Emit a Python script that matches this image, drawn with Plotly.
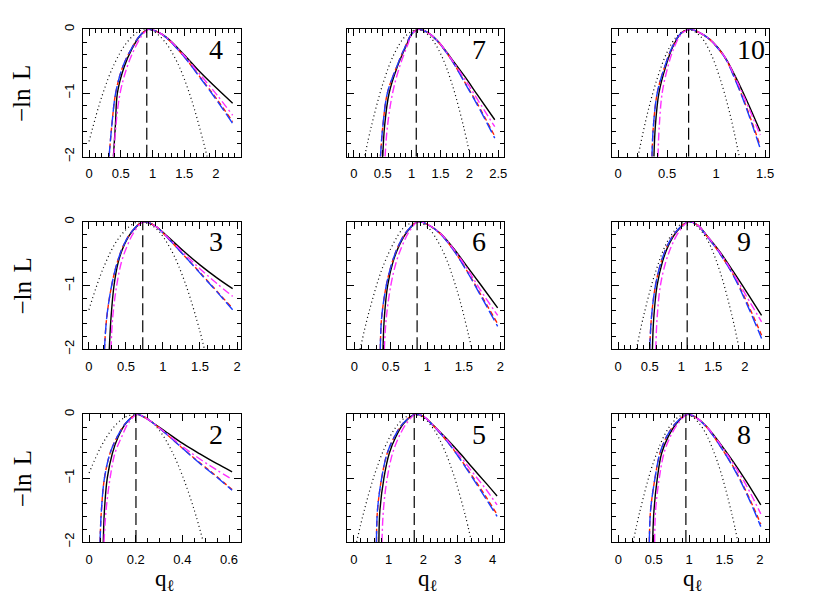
import plotly.graph_objects as go

# ---------------- data ----------------
# panel 4
P4_BLACK_X = [0.384, 0.416, 0.447, 0.553, 0.674, 0.805, 0.93, 1.08, 1.226, 1.49, 1.75, 2.016, 2.263]
P4_BLACK_Y = [-2.0, -1.5, -1.0, -0.59, -0.31, -0.10, 0.0, -0.04, -0.13, -0.39, -0.67, -0.93, -1.16]
P4_BLUE_X = [0.316, 0.36, 0.42, 0.53, 0.665, 0.80, 0.93, 1.08, 1.226, 1.49, 1.75, 2.016, 2.263]
P4_BLUE_Y = [-2.0, -1.5, -1.0, -0.59, -0.31, -0.10, 0.0, -0.04, -0.14, -0.42, -0.76, -1.12, -1.48]
P4_RED_Y = [-2.0, -1.5, -1.0, -0.59, -0.31, -0.10, 0.0, -0.04, -0.14, -0.42, -0.75, -1.10, -1.45]
P4_MAG_X = [0.39, 0.425, 0.49, 0.60, 0.72, 0.84, 0.94, 1.08, 1.226, 1.49, 1.75, 2.016, 2.263]
P4_MAG_Y = [-2.0, -1.5, -1.0, -0.59, -0.30, -0.09, 0.0, -0.04, -0.13, -0.40, -0.71, -1.03, -1.35]
P4_GAUSS_X = [0.0, 0.2, 0.4, 0.6, 0.8, 0.9, 1.0, 1.2, 1.4, 1.6, 1.8, 1.86]
P4_GAUSS_Y = [-1.76, -1.06, -0.54, -0.20, -0.02, 0.0, -0.02, -0.20, -0.54, -1.06, -1.76, -2.0]
P4_MLE = 0.91

# panel 7
P7_BLACK_X = [0.50, 0.53, 0.61, 0.75, 0.90, 1.01, 1.12, 1.28, 1.46, 1.69, 1.92, 2.14, 2.44]
P7_BLACK_Y = [-2.0, -1.53, -1.0, -0.59, -0.27, -0.06, 0.0, -0.05, -0.19, -0.46, -0.74, -1.03, -1.42]
P7_BLUE_X = [0.46, 0.50, 0.58, 0.74, 0.89, 1.01, 1.12, 1.28, 1.46, 1.69, 1.92, 2.14, 2.44]
P7_BLUE_Y = [-2.0, -1.53, -1.0, -0.59, -0.27, -0.06, 0.0, -0.05, -0.20, -0.48, -0.84, -1.19, -1.71]
P7_RED_Y = [-2.0, -1.53, -1.0, -0.59, -0.27, -0.06, 0.0, -0.05, -0.20, -0.48, -0.83, -1.17, -1.68]
P7_MAG_X = [0.54, 0.58, 0.67, 0.79, 0.92, 1.02, 1.12, 1.28, 1.46, 1.69, 1.92, 2.14, 2.44]
P7_MAG_Y = [-2.0, -1.53, -1.0, -0.59, -0.27, -0.06, 0.0, -0.05, -0.19, -0.47, -0.78, -1.10, -1.53]
P7_GAUSS_X = [0.19, 0.3, 0.5, 0.7, 0.9, 1.1, 1.3, 1.5, 1.7, 1.9, 2.01]
P7_GAUSS_Y = [-1.98, -1.53, -0.86, -0.38, -0.10, 0.0, -0.10, -0.38, -0.86, -1.53, -1.98]
P7_MLE = 1.08

# panel 10
P10_BLACK_X = [0.366, 0.38, 0.417, 0.485, 0.56, 0.644, 0.735, 0.83, 0.93, 1.02, 1.10, 1.20, 1.305, 1.45]
P10_BLACK_Y = [-2.0, -1.53, -1.0, -0.59, -0.27, -0.06, 0.0, -0.05, -0.15, -0.29, -0.46, -0.75, -1.09, -1.60]
P10_BLUE_X = [0.346, 0.36, 0.40, 0.475, 0.555, 0.642, 0.735, 0.83, 0.93, 1.02, 1.10, 1.20, 1.305, 1.45]
P10_BLUE_Y = [-2.0, -1.53, -1.0, -0.59, -0.27, -0.06, 0.0, -0.05, -0.15, -0.30, -0.47, -0.81, -1.22, -1.87]
P10_RED_Y = [-2.0, -1.53, -1.0, -0.59, -0.27, -0.06, 0.0, -0.05, -0.15, -0.30, -0.47, -0.80, -1.20, -1.83]
P10_MAG_X = [0.407, 0.42, 0.45, 0.508, 0.576, 0.654, 0.74, 0.83, 0.93, 1.02, 1.10, 1.20, 1.305, 1.45]
P10_MAG_Y = [-2.0, -1.53, -1.0, -0.59, -0.27, -0.06, 0.0, -0.05, -0.15, -0.29, -0.46, -0.77, -1.13, -1.66]
P10_GAUSS_X = [0.203, 0.3, 0.4, 0.5, 0.6, 0.72, 0.84, 0.94, 1.04, 1.14, 1.237]
P10_GAUSS_Y = [-2.0, -1.32, -0.77, -0.36, -0.11, 0.0, -0.11, -0.36, -0.77, -1.32, -2.0]
P10_MLE = 0.72

# panel 3
P3_BLACK_X = [0.275, 0.298, 0.339, 0.397, 0.474, 0.578, 0.736, 0.90, 1.052, 1.278, 1.503, 1.729, 1.941]
P3_BLACK_Y = [-2.0, -1.51, -1.0, -0.63, -0.37, -0.16, 0.0, -0.07, -0.22, -0.46, -0.68, -0.88, -1.05]
P3_BLUE_X = [0.21, 0.24, 0.307, 0.385, 0.468, 0.575, 0.736, 0.90, 1.052, 1.278, 1.503, 1.729, 1.941]
P3_BLUE_Y = [-2.0, -1.51, -1.0, -0.63, -0.37, -0.16, 0.0, -0.07, -0.24, -0.52, -0.81, -1.10, -1.38]
P3_RED_Y = [-2.0, -1.51, -1.0, -0.63, -0.37, -0.16, 0.0, -0.07, -0.24, -0.52, -0.80, -1.09, -1.36]
P3_MAG_X = [0.298, 0.32, 0.375, 0.44, 0.52, 0.61, 0.74, 0.90, 1.052, 1.278, 1.503, 1.729, 1.941]
P3_MAG_Y = [-2.0, -1.51, -1.0, -0.63, -0.37, -0.16, 0.0, -0.07, -0.23, -0.49, -0.74, -0.97, -1.17]
P3_GAUSS_X = [0.0, 0.2, 0.4, 0.6, 0.708, 0.9, 1.1, 1.3, 1.5, 1.56]
P3_GAUSS_Y = [-1.38, -0.71, -0.26, -0.03, 0.0, -0.10, -0.42, -0.96, -1.72, -2.0]
P3_MLE = 0.727

# panel 6
P6_BLACK_X = [0.393, 0.411, 0.457, 0.53, 0.616, 0.721, 0.868, 1.0, 1.178, 1.361, 1.543, 1.726, 1.963]
P6_BLACK_Y = [-2.0, -1.51, -1.0, -0.63, -0.37, -0.16, 0.0, -0.04, -0.18, -0.42, -0.70, -0.98, -1.35]
P6_BLUE_X = [0.356, 0.374, 0.438, 0.52, 0.607, 0.712, 0.868, 1.0, 1.178, 1.361, 1.543, 1.726, 1.963]
P6_BLUE_Y = [-2.0, -1.51, -1.0, -0.63, -0.37, -0.16, 0.0, -0.04, -0.19, -0.45, -0.78, -1.15, -1.64]
P6_RED_Y = [-2.0, -1.51, -1.0, -0.63, -0.37, -0.16, 0.0, -0.04, -0.19, -0.45, -0.77, -1.13, -1.60]
P6_MAG_X = [0.411, 0.438, 0.50, 0.575, 0.658, 0.749, 0.87, 1.0, 1.178, 1.361, 1.543, 1.726, 1.963]
P6_MAG_Y = [-2.0, -1.51, -1.0, -0.63, -0.37, -0.16, 0.0, -0.04, -0.18, -0.43, -0.73, -1.07, -1.47]
P6_GAUSS_X = [0.08, 0.2, 0.4, 0.6, 0.7, 0.845, 1.0, 1.2, 1.4, 1.61]
P6_GAUSS_Y = [-2.0, -1.42, -0.68, -0.21, -0.07, 0.0, -0.08, -0.43, -1.05, -2.0]
P6_MLE = 0.86

# panel 9
P9_BLACK_X = [0.542, 0.563, 0.616, 0.70, 0.795, 0.921, 1.105, 1.25, 1.395, 1.605, 1.816, 2.026, 2.263]
P9_BLACK_Y = [-2.0, -1.51, -1.0, -0.63, -0.37, -0.16, 0.0, -0.05, -0.21, -0.47, -0.78, -1.10, -1.47]
P9_BLUE_X = [0.50, 0.526, 0.59, 0.68, 0.78, 0.91, 1.105, 1.25, 1.395, 1.605, 1.816, 2.026, 2.263]
P9_BLUE_Y = [-2.0, -1.51, -1.0, -0.63, -0.37, -0.16, 0.0, -0.05, -0.22, -0.50, -0.84, -1.28, -1.83]
P9_RED_Y = [-2.0, -1.51, -1.0, -0.63, -0.37, -0.16, 0.0, -0.05, -0.22, -0.50, -0.83, -1.25, -1.78]
P9_MAG_X = [0.595, 0.616, 0.668, 0.753, 0.847, 0.958, 1.11, 1.25, 1.395, 1.605, 1.816, 2.026, 2.263]
P9_MAG_Y = [-2.0, -1.51, -1.0, -0.63, -0.37, -0.16, 0.0, -0.05, -0.21, -0.48, -0.81, -1.17, -1.57]
P9_GAUSS_X = [0.29, 0.4, 0.6, 0.8, 1.0, 1.1, 1.2, 1.4, 1.6, 1.8, 1.91]
P9_GAUSS_Y = [-2.0, -1.49, -0.76, -0.27, -0.03, 0.0, -0.03, -0.27, -0.76, -1.49, -2.0]
P9_MLE = 1.09

# panel 2
P2_BLACK_X = [0.061, 0.066, 0.078, 0.10, 0.125, 0.158, 0.204, 0.23, 0.261, 0.332, 0.403, 0.475, 0.546, 0.613]
P2_BLACK_Y = [-2.0, -1.5, -1.0, -0.61, -0.35, -0.14, 0.0, -0.03, -0.10, -0.28, -0.46, -0.62, -0.77, -0.90]
P2_BLUE_X = [0.047, 0.053, 0.066, 0.09, 0.121, 0.157, 0.204, 0.23, 0.261, 0.332, 0.403, 0.475, 0.546, 0.613]
P2_BLUE_Y = [-2.0, -1.5, -1.0, -0.61, -0.35, -0.14, 0.0, -0.03, -0.10, -0.31, -0.54, -0.77, -0.98, -1.19]
P2_RED_Y = [-2.0, -1.5, -1.0, -0.61, -0.35, -0.14, 0.0, -0.03, -0.10, -0.31, -0.54, -0.76, -0.97, -1.18]
P2_MAG_X = [0.064, 0.073, 0.09, 0.111, 0.14, 0.168, 0.206, 0.23, 0.261, 0.332, 0.403, 0.475, 0.546, 0.613]
P2_MAG_Y = [-2.0, -1.5, -1.0, -0.61, -0.35, -0.14, 0.0, -0.03, -0.10, -0.30, -0.51, -0.70, -0.87, -1.02]
P2_GAUSS_X = [0.0, 0.05, 0.1, 0.15, 0.198, 0.25, 0.3, 0.35, 0.4, 0.45, 0.489]
P2_GAUSS_Y = [-0.92, -0.515, -0.226, -0.054, 0.0, -0.064, -0.245, -0.543, -0.959, -1.49, -1.99]
P2_MLE = 0.201

# panel 5
P5_BLACK_X = [0.72, 0.75, 0.865, 1.02, 1.21, 1.44, 1.76, 2.0, 2.29, 2.67, 3.06, 3.44, 3.83, 4.13]
P5_BLACK_Y = [-2.0, -1.5, -1.0, -0.61, -0.35, -0.14, 0.0, -0.03, -0.17, -0.38, -0.61, -0.85, -1.09, -1.28]
P5_BLUE_X = [0.65, 0.68, 0.80, 0.96, 1.17, 1.42, 1.76, 2.0, 2.29, 2.67, 3.06, 3.44, 3.83, 4.13]
P5_BLUE_Y = [-2.0, -1.5, -1.0, -0.61, -0.35, -0.14, 0.0, -0.03, -0.18, -0.41, -0.70, -1.01, -1.34, -1.60]
P5_RED_Y = [-2.0, -1.5, -1.0, -0.61, -0.35, -0.14, 0.0, -0.03, -0.18, -0.41, -0.69, -0.99, -1.31, -1.57]
P5_MAG_X = [0.81, 0.85, 0.96, 1.115, 1.30, 1.52, 1.78, 2.0, 2.29, 2.67, 3.06, 3.44, 3.83, 4.13]
P5_MAG_Y = [-2.0, -1.5, -1.0, -0.61, -0.35, -0.14, 0.0, -0.03, -0.17, -0.39, -0.65, -0.92, -1.19, -1.42]
P5_GAUSS_X = [0.077, 0.3, 0.6, 0.9, 1.2, 1.5, 1.735, 2.0, 2.3, 2.6, 2.9, 3.2, 3.39]
P5_GAUSS_Y = [-2.0, -1.50, -0.935, -0.506, -0.208, -0.04, 0.0, -0.051, -0.232, -0.543, -0.985, -1.558, -1.99]
P5_MLE = 1.74

# panel 8
P8_BLACK_X = [0.485, 0.504, 0.551, 0.612, 0.706, 0.824, 0.974, 1.1, 1.247, 1.435, 1.624, 1.812, 2.014]
P8_BLACK_Y = [-2.0, -1.5, -1.0, -0.61, -0.35, -0.14, 0.0, -0.05, -0.19, -0.45, -0.74, -1.055, -1.42]
P8_BLUE_X = [0.438, 0.456, 0.518, 0.588, 0.682, 0.81, 0.974, 1.1, 1.247, 1.435, 1.624, 1.812, 2.014]
P8_BLUE_Y = [-2.0, -1.5, -1.0, -0.61, -0.35, -0.14, 0.0, -0.05, -0.20, -0.49, -0.83, -1.24, -1.76]
P8_RED_Y = [-2.0, -1.5, -1.0, -0.61, -0.35, -0.14, 0.0, -0.05, -0.20, -0.49, -0.82, -1.22, -1.72]
P8_MAG_X = [0.513, 0.527, 0.579, 0.645, 0.734, 0.847, 0.98, 1.1, 1.247, 1.435, 1.624, 1.812, 2.014]
P8_MAG_Y = [-2.0, -1.5, -1.0, -0.61, -0.35, -0.14, 0.0, -0.05, -0.19, -0.46, -0.77, -1.12, -1.56]
P8_GAUSS_X = [0.21, 0.3, 0.5, 0.7, 0.85, 0.95, 1.05, 1.2, 1.4, 1.6, 1.69]
P8_GAUSS_Y = [-2.0, -1.54, -0.74, -0.23, -0.04, 0.0, -0.04, -0.23, -0.74, -1.54, -2.0]
P8_MLE = 0.955

PANEL_LABELS = ["4", "7", "10", "3", "6", "9", "2", "5", "8"]
Y_TICK_VALUES = [-2, -1, 0]

# table of panels built from the lists above (grid order: rows top->bottom, cols left->right)
PANELS = [
    (P4_BLACK_X, P4_BLACK_Y, P4_BLUE_X, P4_BLUE_Y, P4_RED_Y, P4_MAG_X, P4_MAG_Y, P4_GAUSS_X, P4_GAUSS_Y, P4_MLE),
    (P7_BLACK_X, P7_BLACK_Y, P7_BLUE_X, P7_BLUE_Y, P7_RED_Y, P7_MAG_X, P7_MAG_Y, P7_GAUSS_X, P7_GAUSS_Y, P7_MLE),
    (P10_BLACK_X, P10_BLACK_Y, P10_BLUE_X, P10_BLUE_Y, P10_RED_Y, P10_MAG_X, P10_MAG_Y, P10_GAUSS_X, P10_GAUSS_Y, P10_MLE),
    (P3_BLACK_X, P3_BLACK_Y, P3_BLUE_X, P3_BLUE_Y, P3_RED_Y, P3_MAG_X, P3_MAG_Y, P3_GAUSS_X, P3_GAUSS_Y, P3_MLE),
    (P6_BLACK_X, P6_BLACK_Y, P6_BLUE_X, P6_BLUE_Y, P6_RED_Y, P6_MAG_X, P6_MAG_Y, P6_GAUSS_X, P6_GAUSS_Y, P6_MLE),
    (P9_BLACK_X, P9_BLACK_Y, P9_BLUE_X, P9_BLUE_Y, P9_RED_Y, P9_MAG_X, P9_MAG_Y, P9_GAUSS_X, P9_GAUSS_Y, P9_MLE),
    (P2_BLACK_X, P2_BLACK_Y, P2_BLUE_X, P2_BLUE_Y, P2_RED_Y, P2_MAG_X, P2_MAG_Y, P2_GAUSS_X, P2_GAUSS_Y, P2_MLE),
    (P5_BLACK_X, P5_BLACK_Y, P5_BLUE_X, P5_BLUE_Y, P5_RED_Y, P5_MAG_X, P5_MAG_Y, P5_GAUSS_X, P5_GAUSS_Y, P5_MLE),
    (P8_BLACK_X, P8_BLACK_Y, P8_BLUE_X, P8_BLUE_Y, P8_RED_Y, P8_MAG_X, P8_MAG_Y, P8_GAUSS_X, P8_GAUSS_Y, P8_MLE),
]

# ---------------- layout / styling ----------------
W, H = 817, 611
OFF = 8.0  # page body margin offset in the browser
COL_PX = [(83.0, 240.7), (347.0, 504.0), (611.7, 769.0)]
ROW_PX = [(29.3, 156.7), (221.7, 349.3), (414.3, 542.0)]
# x-axis range and tick spacing per panel (style)
X_AXES = [
    ([-0.095, 2.39], 0.5, 0.1), ([-0.12, 2.6], 0.5, 0.1), ([-0.065, 1.54], 0.5, 0.1),
    ([-0.08, 2.05], 0.5, 0.1), ([-0.1, 2.05], 0.5, 0.1), ([-0.1, 2.38], 0.5, 0.1),
    ([-0.026, 0.65], 0.2, 0.05), ([-0.2, 4.33], 1.0, 0.2), ([-0.094, 2.13], 0.5, 0.1),
]

SERIF = "Liberation Serif, DejaVu Serif, serif"
SANS = "Liberation Sans, Arial, sans-serif"


def px_x(v):
    return (v - OFF) / W


def px_y(v):
    return 1 - (v - OFF) / H


fig = go.Figure()

for i, (bx, by, ux, uy, ry, mx, my, gx, gy, mle) in enumerate(PANELS):
    idx = i + 1
    r, c = divmod(i, 3)
    xa = "x" if idx == 1 else f"x{idx}"
    ya = "y" if idx == 1 else f"y{idx}"
    common = dict(xaxis=xa, yaxis=ya, mode="lines", showlegend=False, hoverinfo="skip")
    fig.add_trace(go.Scatter(x=gx, y=gy, line=dict(color="black", width=1.2, dash="1px,3px", shape="spline"), **common))
    fig.add_trace(go.Scatter(x=bx, y=by, line=dict(color="black", width=1.4, shape="spline"), **common))
    fig.add_trace(go.Scatter(x=ux, y=ry, line=dict(color="#ff2000", width=1.4, dash="5px,3px", shape="spline"), **common))
    fig.add_trace(go.Scatter(x=ux, y=uy, line=dict(color="#1a3cff", width=1.4, dash="11px,4px", shape="spline"), **common))
    fig.add_trace(go.Scatter(x=mx, y=my, line=dict(color="#ff30ff", width=1.4, dash="8px,3px,2px,3px", shape="spline"), **common))
    fig.add_trace(go.Scatter(x=[mle, mle], y=[Y_TICK_VALUES[0], Y_TICK_VALUES[-1]],
                             line=dict(color="black", width=1.2, dash="12px,5px"), **common))

    x0, x1 = COL_PX[c]
    y0, y1 = ROW_PX[r]
    xr, dt, mdt = X_AXES[i]
    axis_common = dict(showline=True, linecolor="black", linewidth=1.3, mirror="ticks",
                       ticks="inside", ticklen=7, tickwidth=1, tickcolor="black",
                       showgrid=False, zeroline=False, automargin=False,
                       tickfont=dict(family=SANS, size=13, color="black"))
    fig.update_layout(**{
        f"xaxis{idx}": dict(domain=[px_x(x0), px_x(x1)], anchor=ya, range=xr, tick0=0, dtick=dt,
                            ticklabelstandoff=5,
                            minor=dict(dtick=mdt, tick0=0, ticklen=4, ticks="inside", tickcolor="black", tickwidth=1),
                            **axis_common),
        f"yaxis{idx}": dict(domain=[px_y(y1), px_y(y0)], anchor=xa, range=[-2.001, 0.001],
                            tickvals=Y_TICK_VALUES, tickangle=-90, showticklabels=(c == 0),
                            ticklabelstandoff=3,
                            minor=dict(dtick=0.2, tick0=0, ticklen=4, ticks="inside", tickcolor="black", tickwidth=1),
                            **axis_common),
    })
    # panel number
    fig.add_annotation(xref="paper", yref="paper", x=px_x(x1 - 34), y=px_y(y0 + 20),
                       text=PANEL_LABELS[i], showarrow=False, xanchor="left", yanchor="middle",
                       font=dict(family=SERIF, size=28, color="black"))
    if c == 0:
        fig.add_annotation(xref="paper", yref="paper", x=px_x(22.0), y=px_y((y0 + y1) / 2),
                           text="\u2212ln\u2004L", textangle=-90, showarrow=False,
                           xanchor="center", yanchor="middle", borderpad=0,
                           font=dict(family=SERIF, size=25, color="black"))
    if r == 2:
        fig.add_annotation(xref="paper", yref="paper", x=px_x((x0 + x1) / 2 + 3), y=px_y(565),
                           text="q<sub>\u2113</sub>", showarrow=False, xanchor="center", yanchor="top",
                           borderpad=0, font=dict(family=SERIF, size=23, color="black"))

fig.update_layout(template="none", width=W, height=H, margin=dict(l=0, r=0, t=0, b=0, autoexpand=False),
                  paper_bgcolor="white", plot_bgcolor="white")
fig.write_html("out.html")
